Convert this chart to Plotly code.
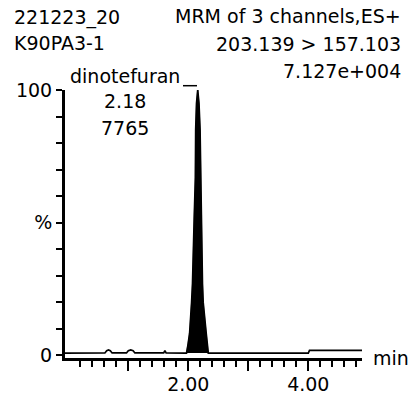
import plotly.graph_objects as go

# ---- data ----
times = [-0.055, 0.55, 0.61, 0.64, 0.67, 0.70, 0.73, 0.97, 1.00, 1.04, 1.08, 1.11,
         1.59, 1.61, 1.63, 1.96, 1.97, 1.995, 2.022, 2.055, 2.07, 2.10, 2.118, 2.123,
         2.137, 2.157, 2.178, 2.196, 2.202, 2.218, 2.236, 2.248, 2.298, 2.316, 2.333,
         2.35, 3.99, 4.0, 4.02, 4.895]
intensity = [0.9, 0.9, 0.95, 1.8, 2.1, 1.8, 0.95, 0.95, 1.8, 2.1, 1.8, 0.95,
             0.95, 1.8, 0.95, 0.9, 0.9, 4.0, 8.4, 20, 27, 53, 67, 85,
             95, 100, 95, 85, 67, 53, 27, 20, 8.4, 4.0, 0.9,
             0.9, 0.9, 0.9, 1.9, 1.9]
peak_start, peak_end = 1.97, 2.333

header_left = ["221223_20", "K90PA3-1"]
header_right = ["MRM of 3 channels,ES+", "203.139 > 157.103", "7.127e+004"]
peak_label = ["dinotefuran", "2.18", "7765"]

y_tickvals = [0, 10, 20, 30, 40, 50, 60, 70, 80, 90, 100]
y_ticktext = ["0", "", "", "", "", "%", "", "", "", "", "100"]
x_major = [1, 2, 3, 4]
x_major_text = ["", "2.00", "", "4.00"]
x_minor = [0.2, 0.4, 0.6, 0.8, 1.2, 1.4, 1.6, 1.8, 2.2, 2.4, 2.6, 2.8,
           3.2, 3.4, 3.6, 3.8, 4.2, 4.4, 4.6, 4.8]

FONT = "DejaVu Sans"
FS = 19

pk_t = [t for t in times if peak_start <= t <= peak_end]
pk_i = [v for t, v in zip(times, intensity) if peak_start <= t <= peak_end]

fig = go.Figure()
fig.add_trace(go.Scatter(x=times, y=intensity, mode="lines",
                         line=dict(color="black", width=1.7), hoverinfo="skip"))
fig.add_trace(go.Scatter(x=pk_t, y=pk_i, mode="lines", fill="toself",
                         fillcolor="black", line=dict(color="black", width=0.5),
                         hoverinfo="skip"))

L, R, T, B = 65, 49, 90, 38
W, H = 411, 396
pw, ph = W - L - R, H - T - B
def px(x):
    return (x - L) / pw
def py(y):
    return (H - B - y) / ph

ann = []
for i, s in enumerate(header_left):
    ann.append(dict(text=s, x=px(12), y=py(17 + 26 * i), xanchor="left", yanchor="middle"))
for i, s in enumerate(header_right):
    ann.append(dict(text=s, x=px(403), y=py(16 + 27.5 * i), xanchor="right", yanchor="middle"))
for s, yy in zip(peak_label, [76, 100.5, 127.5]):
    ann.append(dict(text=s, x=px(124.5), y=py(yy), xanchor="center", yanchor="middle"))
ann.append(dict(text="min", x=px(371), y=py(358), xanchor="left", yanchor="middle"))
for a in ann:
    a.update(xref="paper", yref="paper", showarrow=False,
             font=dict(family=FONT, size=FS, color="black"))

fig.update_layout(
    width=W, height=H, margin=dict(l=L, r=R, t=T, b=B),
    paper_bgcolor="white", plot_bgcolor="white", showlegend=False,
    font=dict(family=FONT, size=FS, color="black"),
    annotations=ann,
    shapes=[dict(type="line", xref="paper", yref="paper",
                 x0=px(183), x1=px(197), y0=py(85.7), y1=py(85.7),
                 line=dict(color="black", width=1.5))],
    xaxis=dict(range=[-0.055, 4.895], showgrid=False, zeroline=False,
               automargin=False,
               showline=True, linecolor="black", linewidth=3,
               tickmode="array", tickvals=x_major, ticktext=x_major_text,
               ticks="outside", ticklen=10, tickwidth=2, tickcolor="black",
               ticklabelstandoff=-3,
               minor=dict(tickmode="array", tickvals=x_minor, ticks="outside",
                          ticklen=6, tickwidth=2, tickcolor="black", showgrid=False)),
    yaxis=dict(range=[-0.95, 100], showgrid=False, zeroline=False,
               automargin=False,
               showline=True, linecolor="black", linewidth=3,
               tickmode="array", tickvals=y_tickvals, ticktext=y_ticktext,
               ticks="outside", ticklen=6, tickwidth=2, tickcolor="black"),
)

fig.write_html("out.html")
